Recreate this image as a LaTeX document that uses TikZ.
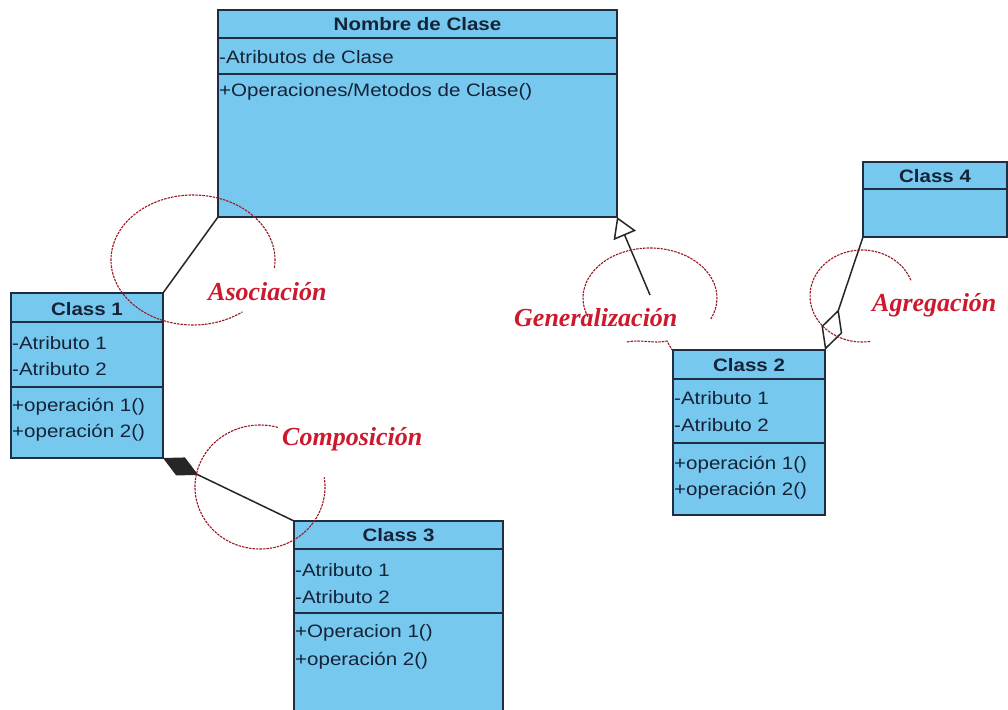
\documentclass[tikz,border=0pt]{standalone}
\usepackage{fontspec}
\usetikzlibrary{arrows.meta}
\newfontfamily\umlfont{Liberation Sans}[FakeStretch=1.14]
\newfontfamily\annfont{Liberation Serif}
\definecolor{umlfill}{RGB}{118,200,238}
\definecolor{umlline}{RGB}{30,45,65}
\definecolor{umltext}{RGB}{20,35,55}
\definecolor{annred}{RGB}{205,25,45}
\definecolor{arcred}{RGB}{150,25,35}
\begin{document}
\begin{tikzpicture}[x=1pt,y=-1pt,
  umlbox/.style={draw=umlline, fill=umlfill, line width=1.2pt, rectangle, inner sep=0pt, outer sep=0pt, anchor=north west},
  sepline/.style={draw=umlline, line width=1.2pt},
  hdr/.style={font=\umlfont\fontsize{18}{20}\selectfont\bfseries, text=umltext, inner sep=0pt},
  row/.style={font=\umlfont\fontsize{18}{20}\selectfont, text=umltext, inner sep=0pt, anchor=west},
  conn/.style={draw=black!85, line width=1.5pt},
  ann/.style={font=\annfont\fontsize{26}{28}\selectfont\bfseries\itshape, text=annred, inner sep=0pt, anchor=west},
  arcd/.style={draw=arcred, line width=1.1pt, dash pattern=on 2.5pt off 1pt},
]
\useasboundingbox (0,0) rectangle (1008,709);
\clip (0,0) rectangle (1008,709);
\fill[white] (0,0) rectangle (1008,709);

% ---- Nombre de Clase
\node[umlbox, minimum width=399pt, minimum height=207pt] (top) at (218,10) {};
\draw[sepline] (218,38) -- (617,38);
\draw[sepline] (218,74) -- (617,74);
\node[hdr] (topH) at (417.5,24) {Nombre de Clase};
\node[row] (topA) at (219,57) {-Atributos de Clase};
\node[row] (topO) at (219,92) {+Operaciones/Metodos de Clase()};

% ---- Class 1
\node[umlbox, minimum width=152pt, minimum height=165pt] (c1) at (11,293) {};
\draw[sepline] (11,322) -- (163,322);
\draw[sepline] (11,387) -- (163,387);
\node[hdr] (c1H) at (87,309) {Class 1};
\node[row] (c1a) at (12,343) {-Atributo 1};
\node[row] (c1b) at (12,369) {-Atributo 2};
\node[row] (c1c) at (12,407) {+operación 1()};
\node[row] (c1d) at (12,433) {+operación 2()};

% ---- Class 2
\node[umlbox, minimum width=152pt, minimum height=165pt] (c2) at (673,350) {};
\draw[sepline] (673,379) -- (825,379);
\draw[sepline] (673,443) -- (825,443);
\node[hdr] (c2H) at (749,365) {Class 2};
\node[row] (c2a) at (674,398) {-Atributo 1};
\node[row] (c2b) at (674,425) {-Atributo 2};
\node[row] (c2c) at (674,465) {+operación 1()};
\node[row] (c2d) at (674,491) {+operación 2()};

% ---- Class 3
\node[umlbox, minimum width=209pt, minimum height=195pt] (c3) at (294,521) {};
\draw[sepline] (294,549) -- (503,549);
\draw[sepline] (294,613) -- (503,613);
\node[hdr] (c3H) at (398.5,535) {Class 3};
\node[row] (c3a) at (295,570) {-Atributo 1};
\node[row] (c3b) at (295,597) {-Atributo 2};
\node[row] (c3c) at (295,633) {+Operacion 1()};
\node[row] (c3d) at (295,661) {+operación 2()};

% ---- Class 4
\node[umlbox, minimum width=144pt, minimum height=75pt] (c4) at (863,162) {};
\draw[sepline] (863,189) -- (1007,189);
\node[hdr] (c4H) at (935,176) {Class 4};

% ---- connectors
\draw[conn] (c1.north east) -- (top.south west);
\coordinate (genend) at (650,295);
\draw[conn, -{Triangle[open, length=20pt, width=24pt, fill=white]}] (genend) -- (top.south east);
\draw[conn, -{Diamond[open, length=43pt, width=22pt, fill=white]}] (c4.south west) -- (c2.north east);
\draw[conn, -{Diamond[length=39pt, width=20pt]}] (c3.north west) -- (c1.south east);

% ---- annotations
\draw[arcd] (193,260) ++(7:82 and 65) arc[start angle=7, end angle=-307, x radius=82, y radius=65];
\node[ann] (asoc) at (208,292) {Asociación};

\draw[arcd] (650,298) ++(158:67 and 50) arc[start angle=158, end angle=385, x radius=67, y radius=50];
\draw[arcd] (627,342) .. controls (640,339) and (655,344) .. (667,341) -- (672,350);
\node[ann] (gen) at (514,318) {Generalización};

\draw[arcd] (862,296) ++(-20:52 and 46) arc[start angle=-20, end angle=-280, x radius=52, y radius=46];
\node[ann] (agr) at (872,305) {Agregación};

\draw[arcd] (260,487) ++(-74:65 and 62) arc[start angle=-74, end angle=-369, x radius=65, y radius=62];
\node[ann] (comp) at (282,439) {Composición};
\end{tikzpicture}
\end{document}
